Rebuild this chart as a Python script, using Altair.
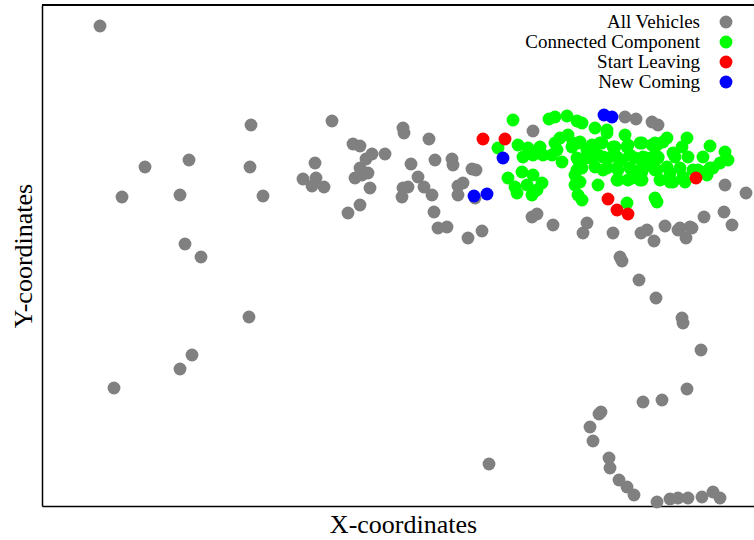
import altair as alt
import pandas as pd

# Estimated vehicle positions (x, y)
gray_x = [100, 251, 189, 145, 250, 122, 180, 263, 185, 201, 249, 192, 180, 114,
          332, 403, 404, 429, 353, 360, 372, 385, 366, 315, 411, 435, 452, 453, 472, 476,
          360, 368, 362, 355, 303, 316, 312, 324, 418, 408, 403, 424, 432, 402, 370, 458,
          463, 458, 475, 360, 348, 434, 438, 447, 482, 468,
          533, 625, 636, 652, 658, 725, 746, 724, 704, 732, 665, 690, 680, 532, 537, 553,
          587, 583, 613, 641, 647, 654, 678, 686, 692,
          620, 622, 639, 656, 682, 683, 701, 687, 662, 643, 601, 599, 590, 593, 609, 610,
          619, 627, 634, 657, 670, 678, 688, 702, 713, 720, 489]
gray_y = [26, 125, 160, 167, 167, 197, 195, 196, 244, 257, 317, 355, 369, 388,
          121, 128, 133, 139, 144, 146, 154, 154, 159, 163, 164, 160, 159, 165, 169, 170,
          168, 173, 175, 178, 179, 178, 186, 187, 177, 187, 188, 187, 195, 197, 188, 186,
          183, 195, 198, 205, 213, 212, 228, 227, 231, 238,
          131, 117, 119, 122, 125, 185, 193, 212, 217, 225, 226, 227, 228, 217, 214, 225,
          223, 233, 233, 233, 230, 241, 230, 238, 228,
          257, 261, 280, 298, 318, 323, 350, 389, 400, 402, 412, 414, 427, 441, 458, 468,
          480, 487, 495, 502, 499, 498, 498, 497, 492, 498, 464]

green_x = [513, 549, 555, 567, 577, 498, 518, 528, 540, 555, 560, 568, 523, 533, 543, 552,
           562, 557, 572, 578, 577, 575, 575, 578, 508, 522, 533, 515, 527, 542, 517, 532, 537,
           582, 595, 607, 625, 580, 592, 602, 615, 628, 642, 655, 663, 585, 598, 608, 622,
           635, 647, 658, 582, 595, 607, 618, 632, 642, 655, 580, 617, 628, 640, 598, 582,
           627, 657,
           667, 687, 710, 725, 728, 720, 703, 688, 673, 667, 680, 693, 705, 713, 670, 685, 707,
           607, 573, 587, 600, 613, 627, 640, 652, 578, 590, 603, 617, 630, 643, 655,
           577, 603, 617, 630, 642, 653, 578, 618, 632, 642, 655,
           657, 682, 675, 658, 657, 670, 683, 698, 710, 673, 660]
green_y = [120, 119, 117, 116, 121, 148, 145, 148, 147, 143, 138, 135, 157, 155, 155, 155,
           162, 150, 147, 143, 158, 175, 185, 195, 178, 172, 175, 187, 185, 183, 193, 195, 190,
           123, 128, 133, 135, 142, 145, 143, 147, 145, 143, 143, 142, 158, 155, 158, 160,
           158, 158, 158, 168, 167, 168, 170, 170, 172, 170, 182, 180, 180, 180, 185, 200,
           203, 202,
           138, 138, 146, 152, 160, 163, 157, 157, 153, 167, 168, 170, 172, 168, 182, 182, 175,
           130, 143, 150, 143, 147, 147, 143, 145, 160, 158, 157, 157, 155, 157, 155,
           170, 170, 168, 168, 168, 167, 182, 180, 178, 180, 198,
           145, 147, 157, 157, 170, 173, 177, 170, 168, 182, 180]

red_x = [483, 505, 608, 617, 628, 696]
red_y = [139, 139, 199, 210, 214, 178]

blue_x = [474, 487, 503, 604, 612]
blue_y = [196, 194, 158, 115, 117]

categories = ["All Vehicles", "Connected Component", "Start Leaving", "New Coming"]
colors = ["#808080", "#00ff00", "#ff0000", "#0000ff"]

rows = []
for cat, xs, ys in zip(categories, [gray_x, green_x, red_x, blue_x], [gray_y, green_y, red_y, blue_y]):
    for x, y in zip(xs, ys):
        rows.append({"x": x, "y": 506 - y, "group": cat})
df = pd.DataFrame(rows)
legend_df = pd.DataFrame({"group": categories})

FONT = "Liberation Serif"
W, H = 712, 501
DOT = 165

color_enc = alt.Color("group:N", scale=alt.Scale(domain=categories, range=colors), legend=None)

points = alt.Chart(df).mark_circle(size=DOT, opacity=1).encode(
    x=alt.X("x:Q", scale=alt.Scale(domain=[42, 754], nice=False, zero=False),
            axis=alt.Axis(title="X-coordinates", labels=False, ticks=False, grid=False,
                          domain=True, domainColor="black", domainWidth=1.5,
                          titleFont=FONT, titleFontSize=26, titleFontWeight="normal",
                          titleColor="black", titlePadding=5, titleX=361)),
    y=alt.Y("y:Q", scale=alt.Scale(domain=[0, 501], nice=False, zero=False),
            axis=alt.Axis(title="Y-coordinates", labels=False, ticks=False, grid=False,
                          domain=True, domainColor="black", domainWidth=1.5,
                          titleFont=FONT, titleFontSize=26, titleFontWeight="normal",
                          titleColor="black", titlePadding=6)),
    color=color_enc,
)

top_line = alt.Chart(legend_df).mark_rule(color="black", strokeWidth=1.5).encode(
    x=alt.value(0), x2=alt.value(W), y=alt.value(0)
)

leg_y = alt.Y("group:N", scale=alt.Scale(domain=categories, range=[17, 77], padding=0), axis=None)
legend_pts = alt.Chart(legend_df).mark_circle(size=DOT, opacity=1).encode(
    x=alt.value(684), y=leg_y, color=color_enc
)
legend_txt = alt.Chart(legend_df).mark_text(
    align="right", baseline="middle", font=FONT, fontSize=19, color="black"
).encode(x=alt.value(658), y=leg_y, text="group:N")

chart = alt.layer(points, top_line, alt.layer(legend_pts, legend_txt)).resolve_scale(
    y="independent"
).properties(
    width=W, height=H,
    padding={"left": 42, "top": 5, "right": 0, "bottom": 34},
    autosize=alt.AutoSizeParams(type="none"),
).configure_view(stroke=None)

chart.save("out.html", embed_options={"renderer": "svg", "actions": False})
